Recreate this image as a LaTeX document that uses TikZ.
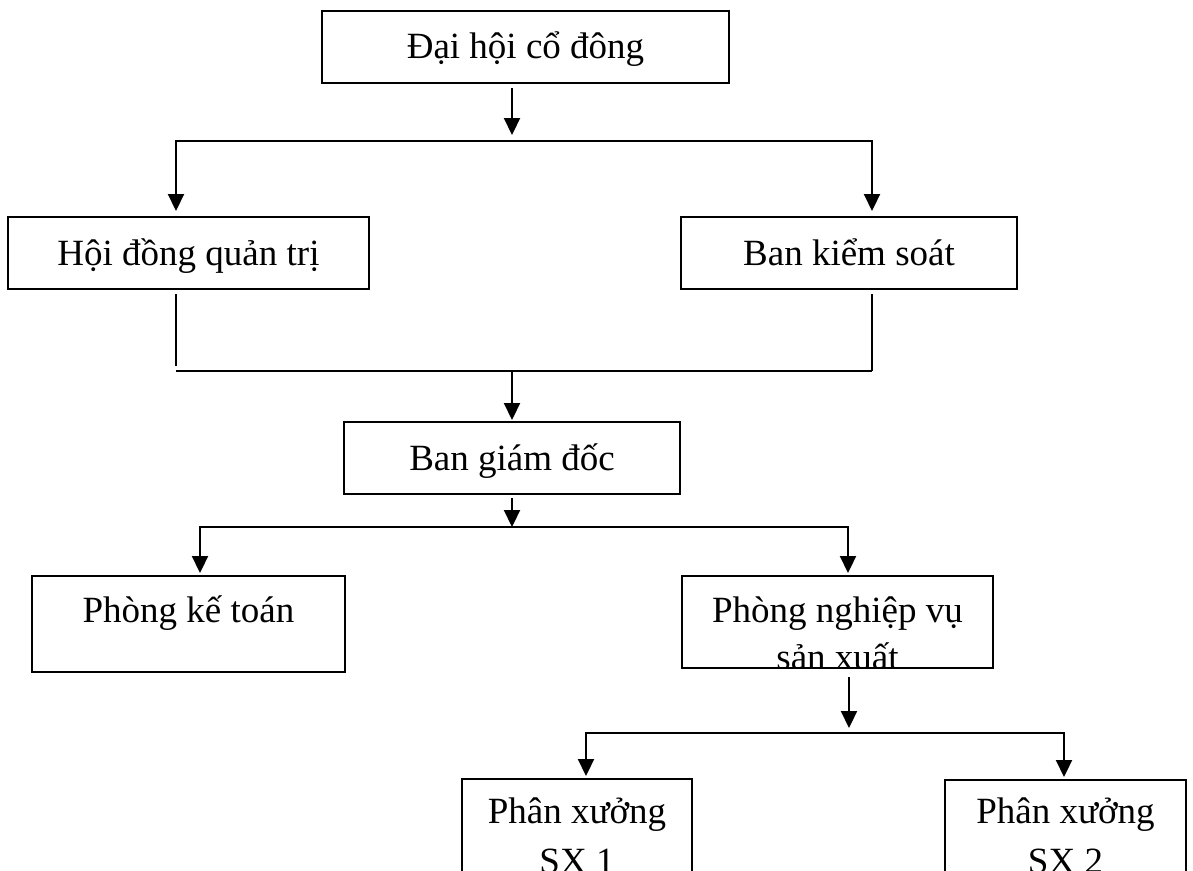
\documentclass[tikz,border=0pt]{standalone}
\usepackage{fontspec}
\setmainfont{Liberation Serif}
\usetikzlibrary{arrows.meta,calc}
\begin{document}
\begin{tikzpicture}[x=1pt,y=-1pt,
  box/.style={draw,line width=2pt,rectangle,inner sep=0pt},
  lbl/.style={font=\fontsize{37}{42.5}\selectfont,inner sep=0pt,anchor=base},
  link/.style={line width=2.2pt},
  arr/.style={link,-{Triangle[length=17pt,width=16pt]}}]
\useasboundingbox (0,0) rectangle (1193,870);
\fill[white] (0,0) rectangle (1193,870);
\clip (0,0) rectangle (1193,870);

% boxes
\node[box,minimum width=407pt,minimum height=72pt] (agm)  at (525.5,47) {};
\node[box,minimum width=361pt,minimum height=72pt] (hdqt) at (188.5,253) {};
\node[box,minimum width=336pt,minimum height=72pt] (bks)  at (849,253) {};
\node[box,minimum width=336pt,minimum height=72pt] (bgd)  at (512,458) {};
\node[box,minimum width=313pt,minimum height=96pt] (pkt)  at (188.5,624) {};
\node[box,minimum width=311pt,minimum height=92pt] (pnv)  at (837.5,622) {};
\node[box,minimum width=230pt,minimum height=121pt] (sx1) at (577,839.5) {};
\node[box,minimum width=241pt,minimum height=120pt] (sx2) at (1065.5,840) {};

% labels
\node[lbl] (agmT)  at (525.5,58) {Đại hội cổ đông};
\node[lbl] (hdqtT) at (188.5,265) {Hội đồng quản trị};
\node[lbl] (bksT)  at (849,265) {Ban kiểm soát};
\node[lbl] (bgdT)  at (512,470) {Ban giám đốc};
\node[lbl] (pktT)  at (188.5,622) {Phòng kế toán};
\begin{scope}
  % the second line runs past the frame and is cut by it
  \clip ($(pnv.south west)+(0,-1)$) rectangle (pnv.north east);
  \node[lbl] (pnvT1) at (837.5,622) {Phòng nghiệp vụ};
  \node[lbl] (pnvT2) at (837.5,669) {sản xuất};
\end{scope}
\node[lbl] (sx1T1) at (577,823) {Phân xưởng};
\node[lbl] (sx1T2) at (577,873) {SX 1};
\node[lbl] (sx2T1) at (1065.5,823) {Phân xưởng};
\node[lbl] (sx2T2) at (1065.5,873) {SX 2};

% first level: general meeting to board and supervisors
\coordinate (busA) at (512,141);
\coordinate (hdqtIn) at ($(hdqt.north west)+(169,-5)$);
\coordinate (bksIn)  at ($(bks.north west)+(192,-5)$);
\draw[arr] ($(agm.south -| busA)+(0,4)$) -- ($(busA)+(0,-6)$);
\draw[arr] (busA) -| (hdqtIn);
\draw[arr] (busA) -| (bksIn);

% second level: both bodies to the directors
\coordinate (busB)  at (512,371);
\coordinate (hdqtOut) at ($(hdqt.south west)+(169,4)$);
\coordinate (bksOut)  at ($(bks.south west)+(192,4)$);
\coordinate (busBL) at (hdqtOut |- busB);
\coordinate (busBR) at (bksOut |- busB);
\draw[link] (hdqtOut) -- ($(busBL)+(0,-5)$);
\draw[link] (bksOut) -- (busBR);
\draw[link] (busBL) -- (busBR);
\draw[arr] (busB) -- ($(bgd.north)+(0,-1)$);

% third level: directors to departments
\coordinate (busC) at (512,527);
\coordinate (pktIn) at ($(pkt.north west)+(169,-2)$);
\coordinate (pnvIn) at ($(pnv.north west)+(167,-2)$);
\draw[arr] ($(bgd.south)+(0,3)$) -- (busC);
\draw[arr] (busC) -| (pktIn);
\draw[arr] (busC) -| (pnvIn);

% fourth level: production department to workshops
\coordinate (busD) at (849,733);
\coordinate (sx1In) at ($(sx1.north west)+(125,-2)$);
\coordinate (sx2In) at ($(sx2.north west)+(120,-2)$);
\draw[arr] ($(pnv.south -| busD)+(0,8)$) -- ($(busD)+(0,-5)$);
\draw[arr] (busD) -| (sx1In);
\draw[arr] (busD) -| (sx2In);
\end{tikzpicture}
\end{document}
